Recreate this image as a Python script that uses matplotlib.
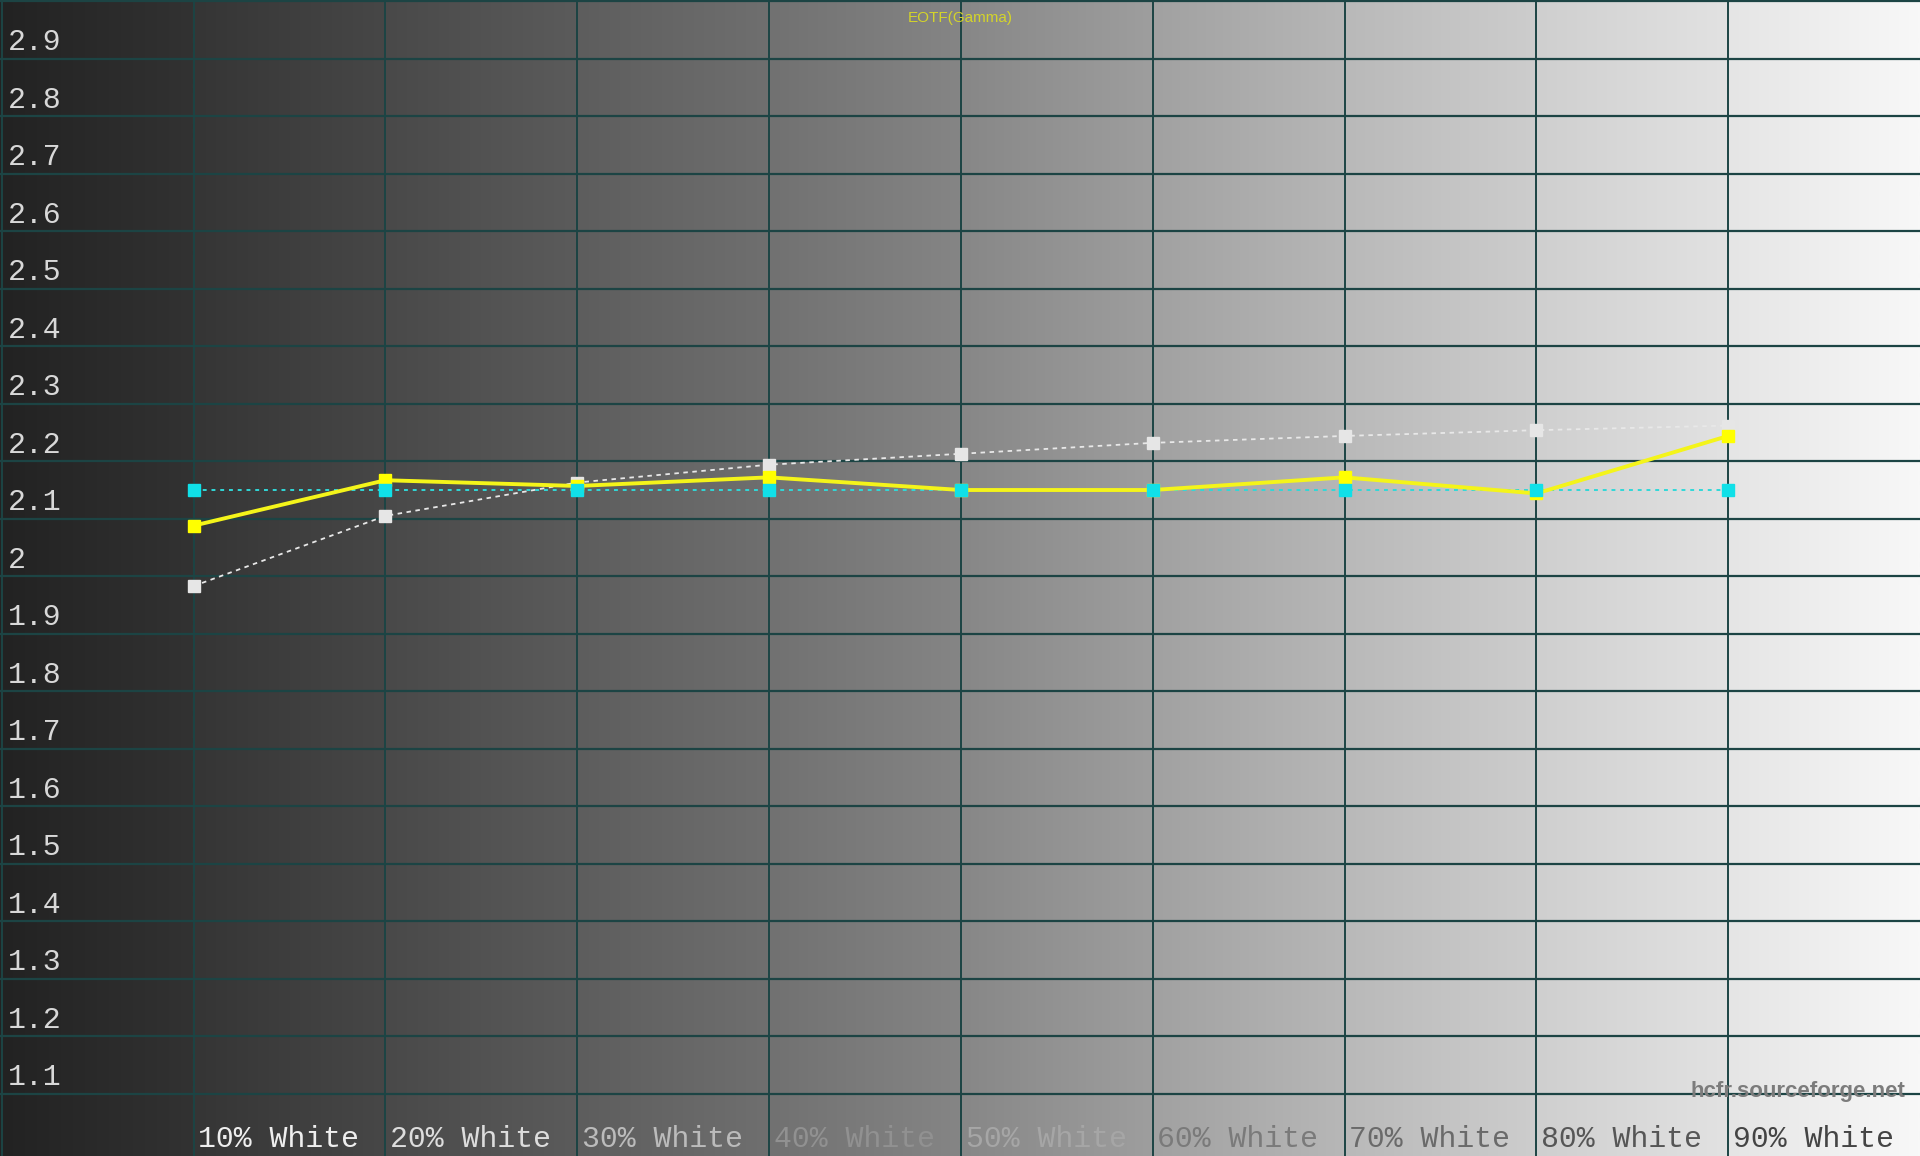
import numpy as np
import matplotlib
matplotlib.use("Agg")
import matplotlib.pyplot as plt

# ---- data ----
categories = ['10% White', '20% White', '30% White', '40% White', '50% White',
              '60% White', '70% White', '80% White', '90% White']
measured = [2.088, 2.167, 2.157, 2.172, 2.150, 2.150, 2.172, 2.144, 2.244]
reference = [1.983, 2.105, 2.163, 2.194, 2.213, 2.232, 2.244, 2.254, 2.262]
target = [2.15, 2.15, 2.15, 2.15, 2.15, 2.15, 2.15, 2.15, 2.15]
ytick_vals = [1.1, 1.2, 1.3, 1.4, 1.5, 1.6, 1.7, 1.8, 1.9, 2.0,
              2.1, 2.2, 2.3, 2.4, 2.5, 2.6, 2.7, 2.8, 2.9]
ytick_labels = ['1.1', '1.2', '1.3', '1.4', '1.5', '1.6', '1.7', '1.8', '1.9', '2',
                '2.1', '2.2', '2.3', '2.4', '2.5', '2.6', '2.7', '2.8', '2.9']
title = 'EOTF(Gamma)'
watermark = 'hcfr.sourceforge.net'

# ---- style ----
label_colors = ['#eeeeee', '#dddddd', '#bbbbbb', '#919191', '#a6a6a6',
                '#7a7a7a', '#6a6a6a', '#565656', '#444444']
cell_start = [0x22, 0x35, 0x49, 0x5d, 0x71, 0x87, 0xa1, 0xb9, 0xcf, 0xe5]
cell_end = [0x32, 0x47, 0x5b, 0x6f, 0x85, 0x9e, 0xb7, 0xcd, 0xe2, 0xf8]
grid_color = '#1c4444'
mono = ['Liberation Mono', 'DejaVu Sans Mono']
sans = ['Liberation Sans', 'DejaVu Sans']

fig = plt.figure(figsize=(19.2, 11.56), dpi=100)
ax = fig.add_axes([0, 0, 1, 1])
x = np.arange(1, len(categories) + 1)

# background: one horizontal gradient per column cell
for i, (a, b) in enumerate(zip(cell_start, cell_end)):
    g = np.linspace(a, b, 64) / 255.0
    rgb = np.stack([g, g, g], axis=-1).reshape(1, -1, 3)
    left = -0.009 if i == 0 else i
    ax.imshow(rgb, aspect='auto', extent=[left, i + 1, 0.992, 3.002],
              zorder=0, interpolation='bilinear')

# grid
for yv in ytick_vals + [3.0]:
    ax.axhline(yv, color=grid_color, lw=1.6, zorder=1)
for xv in range(0, 10):
    ax.axvline(xv, color=grid_color, lw=1.4, zorder=1)

ax.set_xlim(-0.009, 10.0)
ax.set_ylim(0.992, 3.002)
ax.set_xticks([])
ax.set_yticks([])
for s in ax.spines.values():
    s.set_visible(False)

# series
ax.plot(x, reference, color='#e8e8e8', lw=1.3, ls=(0, (2.5, 2.5)),
        marker='s', ms=8, mfc='#e6e6e6', mec='#e6e6e6', zorder=3)
ax.plot(x, target, color='#30d8d8', lw=1.4, ls=(0, (2.0, 2.5)), zorder=3)
ax.plot(x, measured, color='#f4f41a', lw=2.8, marker='s', ms=8,
        mfc='#ffff00', mec='#ffff00', zorder=4)
ax.plot(x, target, ls='none', marker='s', ms=8, mfc='#10e0e8', mec='#10e0e8',
        zorder=5)

# y labels
for yv, lab in zip(ytick_vals, ytick_labels):
    ax.text(0.03, yv + 0.015, lab, family=mono, fontsize=21.5,
            color='#d8d8d8', va='baseline', ha='left', zorder=6)

# x labels
for xi, lab, c in zip(x, categories, label_colors):
    ax.text(xi + 0.025, 0.008, lab, transform=ax.get_xaxis_transform(),
            family=mono, fontsize=21.5, color=c, va='baseline', ha='left', zorder=6)

# title
ax.text(0.5, 1 - 18 / 1156, title, transform=ax.transAxes, family=sans,
        fontsize=11, color='#d4d42a', ha='center', va='center', zorder=6)

# watermark
ax.text(1905 / 1920, 1 - 1097 / 1156, watermark, transform=ax.transAxes,
        family=sans, fontsize=16, fontweight='bold', color='#7c7c7c',
        ha='right', va='baseline', zorder=6)

fig.savefig('out.png', dpi=100)
